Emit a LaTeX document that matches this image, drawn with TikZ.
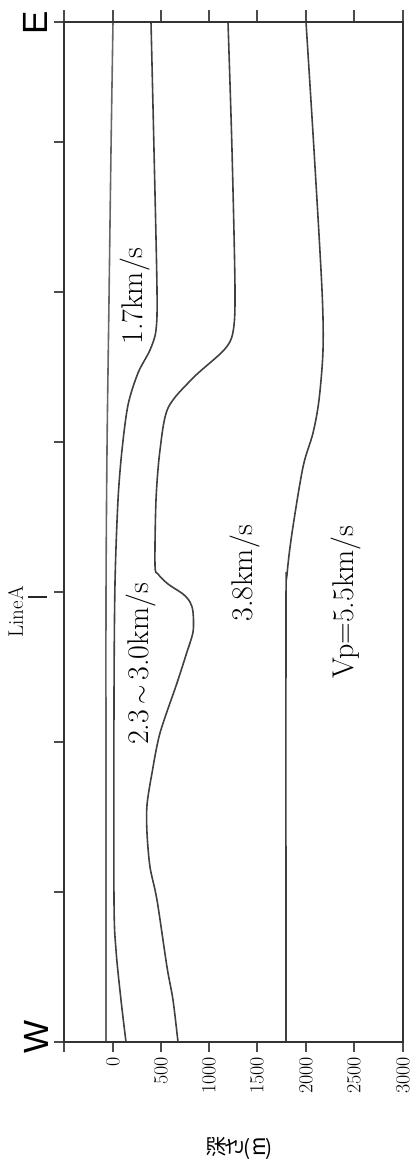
\documentclass[tikz,border=0pt]{standalone}
\usepackage{graphicx}
\usepackage{fontspec}
\newfontfamily\cjk{Noto Sans CJK JP}
\newfontfamily\sansew{Liberation Sans}
\begin{document}
\begin{tikzpicture}[x=1pt,y=-1pt,
  frameline/.style={line width=2.3pt, draw=black!80},
  tickline/.style={line width=1.5pt, draw=black!70},
  layer/.style={line width=1.6pt, draw=black!75},
  lbl/.style={rotate=90, anchor=base, inner sep=0pt, font=\fontsize{30}{36}\selectfont},
  ticklbl/.style={rotate=90, anchor=east, inner sep=0pt, font=\fontsize{20}{24}\selectfont},
  dirlbl/.style={rotate=90, inner sep=0pt, font=\sansew\fontsize{35}{40}\selectfont}]
\useasboundingbox (0,0) rectangle (414,1168);
% ticks
\foreach \x in {64,113,161,209,257,306,354,403} {
  \draw[tickline] (\x,10) -- (\x,22);
  \draw[tickline] (\x,1042) -- (\x,1052);
}
\foreach \y in {22,142,292,442,592,742,892,1042} {
  \draw[tickline] (54,\y) -- (64,\y);
}
% layers
\draw[layer, draw=black!60] plot[smooth,tension=0.5] coordinates {(113,22) (111,150) (109,300) (107,450) (106,600) (106,800) (106,1042)};
\draw[layer] plot[smooth,tension=0.5] coordinates {(151,22) (154,150) (157,290) (156,330) (150,350) (138,373) (128,405) (122,450) (118,500) (115,583) (114,700) (114,900) (116,950) (121,1000) (126,1042)};
\draw[layer] plot[smooth,tension=0.5] coordinates {(228,22) (232,150) (235,290) (233,332) (224,350) (193,378) (168,408) (160,450) (156,500) (155,565) (158,574) (168,584) (183,594) (190,602) (193,612) (193,632) (186,655) (177,683) (160,733) (152,773) (147,805) (147,833) (150,867) (157,900) (167,967) (173,1000) (178,1042)};
\draw[layer] plot[smooth,tension=0.5] coordinates {(306,22) (314,150) (322,290) (323,350) (319,400) (313,433) (303,467) (292,533) (287,575) (286,610) (286,1042)};
% frame
\draw[frameline] (64,22) rectangle (403,1042);
% labels
\node[lbl] (l17) at (142,296) {1.7km/s};
\node[lbl] (l23) at (148,664) {2.3\,$\sim$\,3.0km/s};
\node[lbl] (l38) at (252,573) {3.8km/s};
\node[lbl] (l55) at (353,602) {Vp=5.5km/s};
\node[dirlbl] (east) at (35,23) {E};
\node[dirlbl] (west) at (36,1037) {W};
\node[rotate=90, anchor=base, inner sep=0pt, font=\fontsize{21}{24}\selectfont] (linea) at (23,612) {LineA};
\coordinate (barA) at (28,597);
\coordinate (barB) at (47,597);
\draw[line width=1.8pt, black!85] (barA) -- (barB);
\foreach \x/\t in {113/0,161/500,209/1000,257/1500,306/2000,354/2500,403/3000} {
  \node[ticklbl] (t\t) at (\x,1057) {\t};
}
\node[inner sep=0pt, font=\cjk\fontsize{21}{24}\selectfont] (ylab) at (240,1148) {\raisebox{-0.1em}{\rotatebox{90}{深}}\raisebox{-0.1em}{\rotatebox{90}{さ}}(\,\raisebox{-0.05em}{\rotatebox{90}{m}})};
\end{tikzpicture}
\end{document}
